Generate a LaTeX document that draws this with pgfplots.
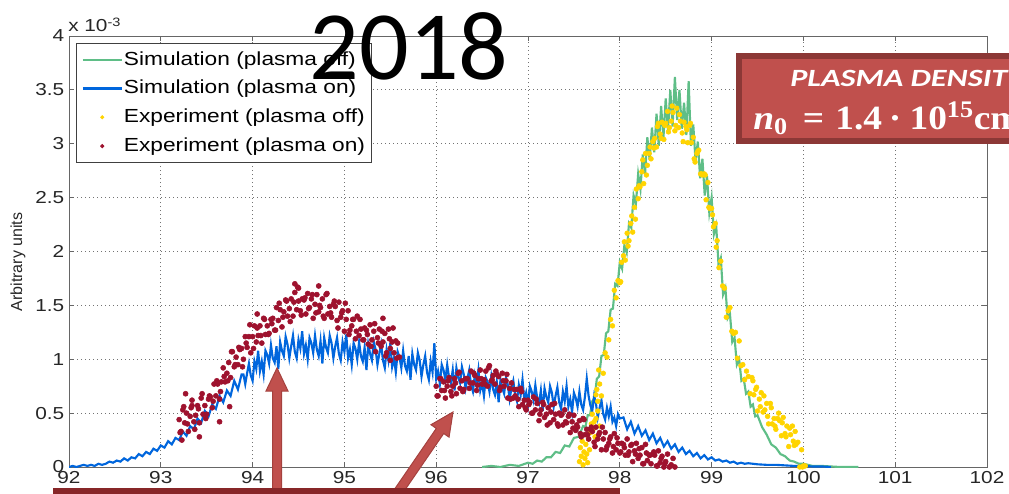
\documentclass[border=0pt]{standalone}
\usepackage{fontspec}
\setmainfont{Liberation Sans}
\newfontfamily\calibri{Carlito}
\newfontfamily\serifb{Liberation Serif}
\usepackage{graphicx}
\usepackage{pgfplots}
\pgfplotsset{compat=1.18}

\definecolor{simoff}{RGB}{95,190,135}
\definecolor{simon}{RGB}{0,102,221}
\definecolor{expoff}{RGB}{255,212,0}
\definecolor{expon}{RGB}{158,18,46}
\definecolor{boxfill}{RGB}{192,80,77}
\definecolor{boxedge}{RGB}{140,56,54}
\definecolor{arrowedge}{RGB}{165,65,62}
\definecolor{barred}{RGB}{135,38,40}

\newcommand{\sx}[1]{\scalebox{1.2}[1]{#1}}
\newcommand{\tickfont}{\fontsize{13}{15}\selectfont}
\newcommand{\legfont}{\fontsize{14.2}{16}\selectfont}

\pgfplotsset{
  lineleg/.style={legend image code/.code={\draw[##1, line width=1.6pt] (0pt,0pt) -- (29.25pt,0pt);}},
  dotleg/.style={legend image code/.code={\draw[##1, mark size=1.2pt] plot coordinates {(14.6pt,0pt)};}},
}

\begin{document}
\begin{tikzpicture}[x=0.75pt,y=0.75pt]
\useasboundingbox (0,0) rectangle (1009,493);
\clip (0,0) rectangle (1009,493);

\begin{axis}[
  at={(51.75pt,19.5pt)}, anchor=south west,
  scale only axis, width=688.5pt, height=323.25pt,
  xmin=92, xmax=102, ymin=0, ymax=4,
  xtick={92,93,...,102},
  xticklabels={\sx{92},\sx{93},\sx{94},\sx{95},\sx{96},\sx{97},\sx{98},\sx{99},\sx{100},\sx{101},\sx{102}},
  ytick={0,0.5,...,4},
  yticklabels={\sx{0},\sx{0.5},\sx{1},\sx{1.5},\sx{2},\sx{2.5},\sx{3},\sx{3.5},\sx{4}},
  ticklabel style={font=\tickfont, text=black!85},
  xtick pos=both, ytick pos=both,
  xticklabel pos=bottom, yticklabel pos=left,
  tick align=inside, major tick length=3.75pt,
  tick style={black!60, line width=0.6pt},
  axis line style={black!60, line width=0.7pt},
  grid=major,
  major grid style={black!55, line width=0.6pt, dash pattern=on 0.8pt off 2.2pt},
  legend cell align=left,
  legend style={at={(0.0076,0.984)}, anchor=north west,
    draw=black!75, line width=0.6pt, fill=white,
    font=\legfont, inner xsep=4pt, inner ysep=4pt, row sep=5pt,
    nodes={inner sep=0.8pt, text height=11.5pt, text depth=3.5pt}},
]

% simulation, plasma off
\addplot[simoff, line width=1.6pt, no markers, lineleg]
coordinates {
(96.50,0.00) (96.60,0.01) (96.70,0.00) (96.80,0.02) (96.90,0.01) (97.00,0.04) (97.05,0.03)
(97.10,0.06) (97.15,0.05) (97.20,0.09) (97.25,0.09) (97.30,0.14) (97.35,0.13) (97.40,0.20)
(97.45,0.19) (97.50,0.27) (97.55,0.28) (97.60,0.38) (97.625,0.37) (97.65,0.48) (97.675,0.48)
(97.70,0.61) (97.725,0.64) (97.75,0.82) (97.775,0.84) (97.80,1.03) (97.825,1.04) (97.85,1.24)
(97.875,1.26) (97.90,1.46) (97.925,1.47) (97.95,1.70) (97.975,1.68) (98.00,1.90) (98.025,1.84)
(98.05,2.06) (98.075,1.99) (98.10,2.26) (98.125,2.22) (98.15,2.52) (98.175,2.44) (98.20,2.72)
(98.225,2.58) (98.25,2.90) (98.275,2.72) (98.30,3.06) (98.325,2.85) (98.35,3.15) (98.375,2.92)
(98.40,3.28) (98.425,2.98) (98.45,3.35) (98.475,3.05) (98.50,3.42) (98.525,3.12) (98.55,3.50)
(98.575,3.16) (98.60,3.62) (98.625,3.22) (98.65,3.50) (98.675,3.14) (98.70,3.38) (98.725,3.08)
(98.75,3.58) (98.775,2.98) (98.80,3.18) (98.825,2.84) (98.85,3.02) (98.875,2.68) (98.90,2.86)
(98.925,2.52) (98.95,2.70) (98.975,2.36) (99.00,2.50) (99.025,2.16) (99.05,2.24) (99.075,1.88)
(99.10,1.94) (99.125,1.60) (99.15,1.66) (99.175,1.38) (99.20,1.42) (99.225,1.16) (99.25,1.20)
(99.275,0.95) (99.30,1.00) (99.325,0.80) (99.35,0.82) (99.375,0.68) (99.40,0.70) (99.425,0.56)
(99.45,0.58) (99.475,0.47) (99.50,0.48) (99.55,0.37) (99.60,0.30) (99.65,0.21) (99.70,0.18)
(99.75,0.12) (99.80,0.10) (99.85,0.06) (99.90,0.05) (99.95,0.03) (100.00,0.03) (100.10,0.01)
(100.20,0.01) (100.40,0.00) (100.60,0.00)
};
\addlegendentry{\sx{Simulation (plasma off)}}

% simulation, plasma on
\addplot[simon, line width=1.6pt, no markers, lineleg]
coordinates {
(92.00,0.00) (92.04,0.01) (92.08,0.00) (92.12,0.01) (92.16,0.02) (92.20,0.01) (92.24,0.02)
(92.28,0.01) (92.32,0.03) (92.36,0.02) (92.40,0.03) (92.44,0.05) (92.48,0.04) (92.52,0.06)
(92.56,0.05) (92.60,0.08) (92.64,0.06) (92.68,0.09) (92.72,0.08) (92.76,0.12) (92.80,0.10)
(92.84,0.14) (92.88,0.12) (92.92,0.17) (92.96,0.15) (93.00,0.20) (93.04,0.18) (93.08,0.24)
(93.12,0.21) (93.16,0.27) (93.20,0.25) (93.24,0.33) (93.28,0.29) (93.32,0.38) (93.36,0.35)
(93.40,0.45) (93.44,0.41) (93.48,0.52) (93.52,0.47) (93.56,0.58) (93.60,0.54) (93.64,0.66)
(93.68,0.60) (93.72,0.71) (93.76,0.66) (93.80,0.80) (93.84,0.72) (93.88,0.86)
(93.90,0.86) (93.92,0.77) (93.94,0.87) (93.96,0.96) (93.98,0.85) (94.00,0.80) (94.02,0.98)
(94.04,0.91) (94.06,1.08) (94.08,0.89) (94.10,0.98) (94.12,0.86) (94.14,1.08) (94.16,1.04)
(94.18,0.96) (94.20,1.13) (94.22,1.01) (94.24,0.97) (94.26,1.12) (94.28,0.91) (94.30,1.16)
(94.32,1.08) (94.34,1.03) (94.36,1.21) (94.38,1.14) (94.40,1.01) (94.42,1.12) (94.44,1.22)
(94.46,1.07) (94.48,1.01) (94.50,1.18) (94.52,1.10) (94.54,1.26) (94.56,1.05) (94.58,1.13)
(94.60,1.00) (94.62,1.20) (94.64,1.15) (94.66,1.06) (94.68,1.22) (94.70,1.09) (94.72,1.03)
(94.74,1.17) (94.76,0.96) (94.78,1.20) (94.80,1.11) (94.82,1.06) (94.84,1.22) (94.86,1.15)
(94.88,1.01) (94.90,1.12) (94.92,1.20) (94.94,1.05) (94.96,0.99) (94.98,1.16) (95.00,1.07)
(95.02,1.23) (95.04,1.01) (95.06,1.09) (95.08,0.95) (95.10,1.15) (95.12,1.10) (95.14,1.00)
(95.16,1.16) (95.18,1.03) (95.20,0.98) (95.22,1.11) (95.24,0.90) (95.26,1.14) (95.28,1.05)
(95.30,0.99) (95.32,1.16) (95.34,1.09) (95.36,0.95) (95.38,1.05) (95.40,1.14) (95.42,0.99)
(95.44,0.92) (95.46,1.09) (95.48,0.99) (95.50,1.15) (95.52,0.93) (95.54,1.01) (95.56,0.88)
(95.58,1.07) (95.60,1.02) (95.62,0.92) (95.64,1.08) (95.66,0.94) (95.68,0.89) (95.70,1.03)
(95.72,0.81) (95.74,1.05) (95.76,0.95) (95.78,0.90) (95.80,1.06) (95.82,0.99) (95.84,0.84)
(95.86,0.95) (95.88,1.03) (95.90,0.88) (95.92,0.81) (95.94,0.98) (95.96,0.88) (95.98,1.15)
(96.00,0.82) (96.02,0.89) (96.04,0.77) (96.06,0.95) (96.08,0.90) (96.10,0.81) (96.12,0.95)
(96.14,0.83) (96.16,0.78) (96.18,0.90) (96.20,0.71) (96.22,0.92) (96.24,0.83) (96.26,0.78)
(96.28,0.93) (96.30,0.86) (96.32,0.73) (96.34,0.82) (96.36,0.90) (96.38,0.76) (96.40,0.70)
(96.42,0.85) (96.44,0.76) (96.46,0.90) (96.48,0.71) (96.50,0.78) (96.52,0.66) (96.54,0.83)
(96.56,0.79) (96.58,0.70) (96.60,0.84) (96.62,0.72) (96.64,0.67) (96.66,0.79) (96.68,0.60)
(96.70,0.81) (96.72,0.73) (96.74,0.68) (96.76,0.83) (96.78,0.76) (96.80,0.63) (96.82,0.73)
(96.84,0.80) (96.86,0.67) (96.88,0.61) (96.90,0.76) (96.92,0.67) (96.94,0.81) (96.96,0.62)
(96.98,0.69) (97.00,0.58) (97.02,0.75) (97.04,0.70) (97.06,0.62) (97.08,0.76) (97.10,0.64)
(97.12,0.59) (97.14,0.71) (97.16,0.52) (97.18,0.73) (97.20,0.65) (97.22,0.60) (97.24,0.75)
(97.26,0.69) (97.28,0.56) (97.30,0.66) (97.32,0.74) (97.34,0.60) (97.36,0.54) (97.38,0.70)
(97.40,0.61) (97.42,0.75) (97.44,0.56) (97.46,0.63) (97.48,0.51) (97.50,0.69) (97.52,0.64)
(97.54,0.56) (97.56,0.70) (97.58,0.58) (97.60,0.53) (97.62,0.65) (97.64,0.82) (97.66,0.66)
(97.68,0.57) (97.70,0.52) (97.72,0.66) (97.74,0.59) (97.76,0.46) (97.78,0.55) (97.80,0.62)
(97.82,0.49) (97.84,0.44) (97.86,0.55) (97.88,0.47) (97.90,0.56) (97.92,0.42) (97.94,0.46)
(97.96,0.38) (97.98,0.49) (98.00,0.45)
(98.04,0.46) (98.08,0.35) (98.12,0.42)
(98.16,0.31) (98.20,0.38) (98.24,0.29) (98.28,0.34) (98.32,0.25) (98.36,0.31) (98.40,0.22)
(98.44,0.27) (98.48,0.19) (98.52,0.24) (98.56,0.17) (98.60,0.21) (98.64,0.14) (98.68,0.18)
(98.72,0.12) (98.76,0.15) (98.80,0.10) (98.84,0.13) (98.88,0.08) (98.92,0.11) (98.96,0.07)
(99.00,0.09) (99.04,0.06) (99.08,0.07) (99.12,0.05) (99.16,0.06) (99.20,0.04) (99.24,0.05)
(99.28,0.03) (99.32,0.04) (99.36,0.03) (99.40,0.035) (99.50,0.025) (99.60,0.02) (99.70,0.02)
(99.80,0.015) (99.90,0.01) (100.00,0.01) (100.10,0.005) (100.20,0.005) (100.30,0.00)
};
\addlegendentry{\sx{Simulation (plasma on)}}

% experiment, plasma off
\addplot[only marks, mark=*, mark size=1.8pt, color=expoff, dotleg]
coordinates {
(97.56,0.05) (97.57,0.18) (97.58,0.10) (97.59,0.24) (97.60,0.02) (97.61,0.14) (97.62,0.08)
(97.63,0.21) (97.64,0.12) (97.65,0.04) (97.66,0.26) (97.67,0.16) (97.68,0.32) (97.69,0.40)
(97.71,0.35) (97.73,0.28) (97.74,0.45) (97.75,0.72) (97.76,0.52) (97.77,0.90) (97.78,0.38)
(97.70,0.49) (97.72,0.42) (97.74,0.67) (97.76,0.61) (97.78,0.77) (97.80,0.66) (97.82,0.87)
(97.84,1.06) (97.86,1.02) (97.88,1.18) (97.90,1.37) (97.92,1.31) (97.94,1.64) (97.96,1.57)
(97.98,1.73) (98.00,1.71) (98.02,1.90) (98.04,1.96) (98.06,1.92) (98.08,2.17) (98.10,2.10)
(98.12,2.26) (98.14,2.18) (98.16,2.41) (98.18,2.58) (98.20,2.49) (98.22,2.60) (98.24,2.74)
(98.26,2.63) (98.28,2.91) (98.30,2.80) (98.32,2.91) (98.34,2.86) (98.36,3.02) (98.38,3.05)
(98.40,2.97) (98.42,3.19) (98.44,3.09) (98.46,3.20) (98.48,3.04) (98.50,3.19) (98.52,3.30)
(98.54,3.15) (98.56,3.21) (98.58,3.29) (98.60,3.12) (98.62,3.33) (98.64,3.15) (98.66,3.21)
(98.68,3.10) (98.70,3.20) (98.72,3.16) (98.74,3.01) (98.76,3.17) (98.78,3.01) (98.80,3.06)
(98.82,2.83) (98.84,2.91) (98.86,2.94) (98.88,2.72) (98.90,2.71) (98.92,2.72) (98.94,2.48)
(98.96,2.64) (98.98,2.40) (99.00,2.40) (99.02,2.23) (99.04,2.26) (99.06,2.10) (99.08,1.85)
(99.10,1.91) (99.12,1.68) (99.14,1.66) (99.16,1.39) (99.18,1.45) (99.20,1.48) (99.22,1.26)
(99.24,1.24) (99.26,1.25) (99.28,1.01) (99.30,1.17) (99.32,0.94) (99.34,0.95) (99.36,0.81)
(99.38,0.89) (99.40,0.84) (99.42,0.68) (99.44,0.83) (99.46,0.67) (99.48,0.72) (99.50,0.52)
(99.52,0.63) (99.54,0.69) (99.56,0.51) (99.58,0.53) (99.60,0.59) (99.62,0.40) (99.64,0.59)
(99.66,0.40) (99.68,0.45) (99.70,0.35) (99.72,0.45) (99.74,0.43) (99.76,0.29) (99.78,0.46)
(99.80,0.31) (99.82,0.38) (99.84,0.19) (99.86,0.30) (99.88,0.38) (99.90,0.20) (99.92,0.21)
(99.94,0.23) (99.96,0.00) (99.98,0.16) (100.00,0.01) (99.99,0.00) (100.02,0.01)
(98.01,1.72) (98.05,2.09) (98.09,2.05) (98.13,2.33) (98.17,2.30) (98.21,2.61) (98.25,2.85)
(98.29,2.71) (98.33,2.97) (98.37,2.96) (98.41,3.16) (98.45,3.05) (98.49,3.17) (98.53,3.11)
(98.57,3.35) (98.61,3.17) (98.65,3.27) (98.69,3.02) (98.73,3.13) (98.77,3.19) (98.81,2.86)
(98.85,2.93) (98.89,2.72) (98.93,2.71) (98.97,2.41) (99.01,2.34) (99.05,2.04)
(99.45,0.80) (99.49,0.74) (99.53,0.56) (99.57,0.66) (99.61,0.47) (99.65,0.55) (99.69,0.38)
(99.73,0.50) (99.77,0.41) (99.81,0.28) (99.85,0.36) (99.89,0.24) (99.91,0.33)
};
\addlegendentry{\sx{Experiment (plasma off)}}

% experiment, plasma on
\addplot[only marks, mark=*, mark size=1.9pt, color=expon, dotleg]
coordinates {
(93.20,0.44) (93.22,0.33) (93.24,0.53) (93.26,0.41) (93.28,0.50) (93.30,0.33) (93.32,0.47)
(93.34,0.57) (93.36,0.42) (93.38,0.48) (93.40,0.57) (93.42,0.41) (93.44,0.64) (93.46,0.49)
(93.48,0.57) (93.50,0.49) (93.52,0.63) (93.54,0.65) (93.56,0.55) (93.58,0.77) (93.60,0.66)
(93.62,0.77) (93.64,0.63) (93.66,0.79) (93.68,0.92) (93.70,0.79) (93.72,0.87) (93.74,0.97)
(93.76,0.83) (93.78,1.07) (93.80,0.93) (93.82,1.02) (93.84,0.95) (93.86,1.09) (93.88,1.10)
(93.90,1.00) (93.92,1.21) (93.94,1.11) (93.96,1.21) (93.98,1.06) (94.00,1.21) (94.02,1.31)
(94.04,1.16) (94.06,1.22) (94.08,1.31) (94.10,1.15) (94.12,1.38) (94.14,1.23) (94.16,1.31)
(94.18,1.24) (94.20,1.37) (94.22,1.38) (94.24,1.27) (94.26,1.48) (94.28,1.36) (94.30,1.46)
(94.32,1.30) (94.34,1.44) (94.36,1.55) (94.38,1.40) (94.40,1.47) (94.42,1.56) (94.44,1.40)
(94.46,1.62) (94.48,1.46) (94.50,1.54) (94.52,1.45) (94.54,1.56) (94.56,1.55) (94.58,1.42)
(94.60,1.61) (94.62,1.48) (94.64,1.56) (94.66,1.38) (94.68,1.51) (94.70,1.60) (94.72,1.44)
(94.74,1.48) (94.76,1.56) (94.78,1.38) (94.80,1.60) (94.82,1.42) (94.84,1.49) (94.86,1.39)
(94.88,1.51) (94.90,1.49) (94.92,1.36) (94.94,1.53) (94.96,1.39) (94.98,1.45) (95.00,1.26)
(95.02,1.37) (95.04,1.45) (95.06,1.27) (95.08,1.31) (95.10,1.37) (95.12,1.19) (95.14,1.40)
(95.16,1.22) (95.18,1.28) (95.20,1.18) (95.22,1.29) (95.24,1.27) (95.26,1.14) (95.28,1.32)
(95.30,1.18) (95.32,1.26) (95.34,1.07) (95.36,1.20) (95.38,1.28) (95.40,1.12) (95.42,1.16)
(95.44,1.24) (95.46,1.06) (95.48,1.28) (95.50,1.10) (95.52,1.16) (95.54,1.06) (95.56,1.17)
(95.58,1.15) (95.60,1.02)
(93.21,0.32) (93.25,0.56) (93.29,0.40) (93.33,0.55) (93.37,0.35) (93.41,0.54) (93.45,0.68)
(93.49,0.45) (93.53,0.66) (93.57,0.61) (93.61,0.80) (93.65,0.70) (93.69,0.84) (93.73,0.80)
(93.77,1.07) (93.81,0.95) (93.85,1.11) (93.89,0.93) (93.93,1.15) (93.97,1.32) (94.01,1.10)
(94.05,1.29) (94.09,1.22) (94.13,1.37) (94.17,1.23) (94.21,1.33) (94.25,1.27) (94.29,1.52)
(94.33,1.39) (94.37,1.54) (94.41,1.35) (94.45,1.53) (94.49,1.67) (94.53,1.41) (94.57,1.57)
(94.61,1.47) (94.65,1.60) (94.69,1.43) (94.73,1.50) (94.77,1.40) (94.81,1.61) (94.85,1.43)
(94.89,1.54) (94.93,1.29) (94.97,1.43) (95.01,1.52) (95.05,1.23) (95.09,1.37) (95.13,1.26)
(95.17,1.37) (95.21,1.18) (95.25,1.23) (95.29,1.12) (95.33,1.33) (95.37,1.15) (95.41,1.26)
(95.45,1.03) (95.49,1.19) (95.53,1.29) (95.57,1.01)
(93.23,0.25) (93.27,0.68) (93.34,0.62) (93.42,0.28) (93.64,0.42) (93.75,0.56)
(94.46,1.70) (94.72,1.68) (94.50,1.66) (94.05,1.42) (95.50,0.99) (95.42,1.38)
(96.00,0.75) (96.02,0.66) (96.04,0.82) (96.06,0.71) (96.08,0.79) (96.10,0.64) (96.12,0.75)
(96.14,0.83) (96.16,0.70) (96.18,0.75) (96.20,0.82) (96.22,0.68) (96.24,0.87) (96.26,0.73)
(96.28,0.80) (96.30,0.72) (96.32,0.82) (96.34,0.82) (96.36,0.73) (96.38,0.89) (96.40,0.78)
(96.42,0.85) (96.44,0.71) (96.46,0.82) (96.48,0.90) (96.50,0.77) (96.52,0.81) (96.54,0.89)
(96.56,0.75) (96.58,0.94) (96.60,0.80) (96.62,0.85) (96.64,0.77) (96.66,0.86) (96.68,0.84)
(96.70,0.74) (96.72,0.87) (96.74,0.75) (96.76,0.80) (96.78,0.64) (96.80,0.73) (96.82,0.78)
(96.84,0.64) (96.86,0.66) (96.88,0.72) (96.90,0.56) (96.92,0.73) (96.94,0.58) (96.96,0.62)
(96.98,0.53) (97.00,0.62) (97.02,0.60) (97.04,0.50) (97.06,0.65) (97.08,0.53) (97.10,0.59)
(97.12,0.43) (97.14,0.53) (97.16,0.60) (97.18,0.46) (97.20,0.49) (97.22,0.55) (97.24,0.41)
(97.26,0.58) (97.28,0.44) (97.30,0.49) (97.32,0.40) (97.34,0.50) (97.36,0.48) (97.38,0.39)
(97.40,0.53) (97.42,0.41) (97.44,0.47) (97.46,0.32) (97.48,0.42) (97.50,0.48) (97.52,0.34)
(97.54,0.37) (97.56,0.43) (97.58,0.28) (97.60,0.45) (97.62,0.30) (97.64,0.35) (97.66,0.26)
(97.68,0.35) (97.70,0.33) (97.72,0.23) (97.74,0.37) (97.76,0.26) (97.78,0.32) (97.80,0.16)
(97.82,0.26) (97.84,0.32) (97.86,0.19) (97.88,0.22) (97.90,0.28) (97.92,0.13) (97.94,0.31)
(97.96,0.16) (97.98,0.22) (98.00,0.13) (98.02,0.22) (98.04,0.21) (98.06,0.11) (98.08,0.26)
(98.10,0.14) (98.12,0.20) (98.14,0.05) (98.16,0.15) (98.18,0.22) (98.20,0.08) (98.22,0.11)
(98.24,0.18) (98.26,0.03) (98.28,0.21) (98.30,0.06) (98.32,0.11) (98.34,0.03) (98.36,0.12)
(98.38,0.11) (98.40,0.01) (98.42,0.15) (98.44,0.04) (98.46,0.10) (98.48,0.00) (98.50,0.05)
(98.52,0.12) (98.54,0.00) (98.56,0.02) (98.58,0.08) (98.60,0.00)
(96.01,0.66) (96.05,0.82) (96.09,0.71) (96.13,0.80) (96.17,0.66) (96.21,0.78) (96.25,0.88)
(96.29,0.70) (96.33,0.82) (96.37,0.78) (96.41,0.87) (96.45,0.76) (96.49,0.82) (96.53,0.77)
(96.57,0.92) (96.61,0.81) (96.65,0.89) (96.69,0.71) (96.73,0.80) (96.77,0.86) (96.81,0.63)
(96.85,0.72) (96.89,0.63) (96.93,0.70) (96.97,0.55) (97.01,0.58) (97.05,0.50) (97.09,0.63)
(97.13,0.49) (97.17,0.58) (97.21,0.39) (97.25,0.51) (97.29,0.59) (97.33,0.38) (97.37,0.49)
(97.41,0.42) (97.45,0.49) (97.49,0.36) (97.53,0.39) (97.57,0.31) (97.61,0.44) (97.65,0.30)
(97.69,0.37) (97.73,0.19) (97.77,0.30) (97.81,0.37) (97.85,0.16) (97.89,0.26) (97.93,0.19)
(97.97,0.27) (98.01,0.14) (98.05,0.18) (98.09,0.11) (98.13,0.21) (98.17,0.12) (98.21,0.17)
(98.25,0.03) (98.29,0.13) (98.33,0.11) (98.37,0.14) (98.41,0.01) (98.45,0.08) (98.49,0.03)
};
\addlegendentry{\sx{Experiment (plasma on)}}
\end{axis}

% axis annotations
\node[anchor=base west, inner sep=0pt, font=\tickfont, text=black!85] at (68,461)
  {\sx{x 10\textsuperscript{-3}}};
\node[rotate=90, inner sep=0pt, font=\fontsize{12}{14}\selectfont, text=black!85] at (18,231)
  {Arbitrary units};

% year heading
\node[anchor=base, inner sep=0pt] at (409,413)
  {\calibri\fontsize{73.5}{80}\selectfont 2018};

% density box
\draw[line width=4.5pt, draw=boxedge, fill=boxfill] (739,352) rectangle (1100,437);
\node[anchor=base west, inner sep=0pt, text=white] at (790,406)
  {\scalebox{1.3}[1]{\calibri\bfseries\itshape\fontsize{18.6}{20}\selectfont PLASMA DENSITY}};
\node[anchor=base west, inner sep=0pt, text=white] at (753,363)
  {\serifb\bfseries\fontsize{25.5}{28}\selectfont\scalebox{1.1}[1]{\textit{n}\textsubscript{0}\hspace{0.4em}=\hspace{0.3em}1.4\hspace{0.18em}·\hspace{0.22em}10\textsuperscript{15}cm\textsuperscript{−3}}};

% pointer arrows
\filldraw[fill=boxfill, draw=arrowedge, line width=0.75pt]
  (272.5,-2) -- (272.5,102) -- (266,102) -- (277,125) -- (288,102) -- (281.5,102) -- (281.5,-2) -- cycle;
\filldraw[fill=boxfill, draw=arrowedge, line width=0.75pt]
  (392.29,0.55) -- (436.29,64.6) -- (430.94,68.28) -- (453,81) -- (449.06,55.82) -- (443.71,59.5) -- (399.71,-4.55) -- cycle;

% bottom bar
\fill[barred] (53,-2) rectangle (620,5);
\end{tikzpicture}
\end{document}
